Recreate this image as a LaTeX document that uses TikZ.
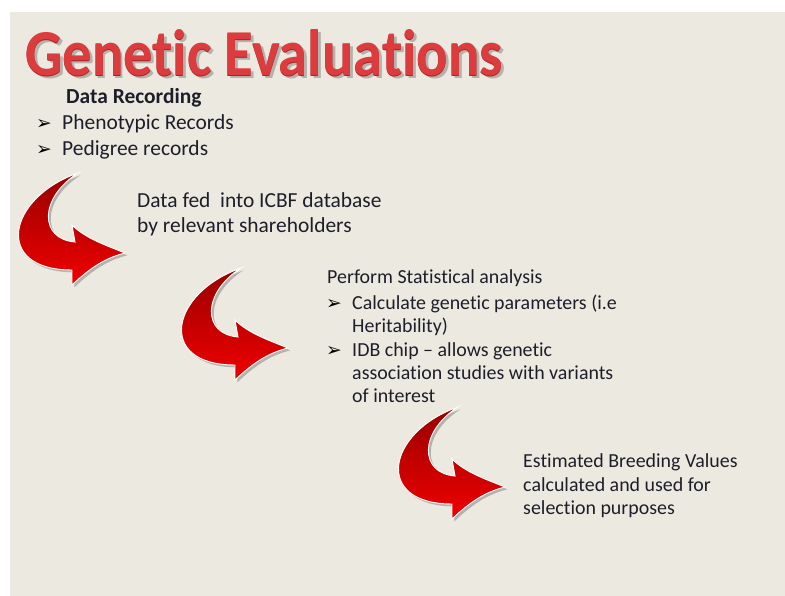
\documentclass[tikz,border=0pt]{standalone}
\usepackage{fontspec}
\setmainfont{Carlito}[Ligatures=NoCommon]
\newfontfamily\symfont{DejaVu Sans}
\usetikzlibrary{shadows}

\definecolor{slidebg}{HTML}{ECEAE0}
\definecolor{titlered}{HTML}{DC3C3E}
\definecolor{titleedge}{HTML}{A82226}
\definecolor{titleshade}{HTML}{B4B2AA}
\definecolor{arrowdark}{HTML}{980000}
\definecolor{arrowlight}{HTML}{F00000}
\definecolor{bodytext}{HTML}{1E1E2A}

\newcommand\titletext{\scalebox{1}[1.12]{Genetic Evaluations}}

\tikzset{
  body/.style={anchor=base west, inner sep=0pt, text=bodytext,
    font=\fontsize{18.3}{22}\selectfont},
  small/.style={body, font=\fontsize{17}{20}\selectfont},
  bullet/.style={anchor=base west, inner sep=0pt, text=black,
    font=\symfont\fontsize{16}{18}\selectfont},
  % curved red arrow, tip at the origin
  bendarrow/.pic={
    \path[drop shadow={shadow xshift=2pt, shadow yshift=-2pt, opacity=.35, fill=black!70},
          top color=arrowdark, bottom color=arrowlight, draw=white, line width=.8pt]
      (-47,-80) .. controls (-118,-55) and (-132,17) .. (-53,17)
      -- (-53,32) .. controls (-35,15) and (-20,5) .. (0,0)
      .. controls (-20,-8) and (-40,-15) .. (-53,-28)
      -- (-50,-11) .. controls (-86,-14) and (-86,-55) .. cycle;
  }
}

\begin{document}
\begin{tikzpicture}[x=0.03cm, y=-0.03cm]
  \useasboundingbox (0,0) rectangle (785,596);
  \fill[white] (0,0) rectangle (785,596);
  \fill[slidebg] (10,12) rectangle (785,596);

  % title: shadow, dark edge and red face in one node
  \node[anchor=base west, inner sep=0pt, font=\fontsize{50}{52}\bfseries] (title) at (25,76)
    {\rlap{\hspace{2.5pt}\raisebox{-2.5pt}{\color{titleshade}\titletext}}%
     \rlap{\raisebox{-.8pt}{\color{titleedge}\titletext}}%
     \color{titlered}\titletext};

  % data recording
  \node[body, font=\fontsize{18.3}{22}\bfseries] (datarec) at (66,104) {Data Recording};
  \node[bullet] (b1) at (36,130) {➢};
  \node[body] (pheno) at (62,130) {Phenotypic Records};
  \node[bullet] (b2) at (36,156) {➢};
  \node[body] (pedigree) at (62,156) {Pedigree records};

  \node[body] (fed1) at (137,208) {Data fed~ into ICBF database};
  \node[body] (fed2) at (137,233) {by relevant shareholders};

  % statistical analysis
  \node[small] (stat) at (327,283) {Perform Statistical analysis};
  \node[bullet] (b3) at (326,309) {➢};
  \node[small] (calc1) at (352,309) {Calculate genetic parameters (i.e};
  \node[small] (calc2) at (352,332) {Heritability)};
  \node[bullet] (b4) at (326,356) {➢};
  \node[small] (idb1) at (352,356) {IDB chip – allows genetic};
  \node[small] (idb2) at (352,379) {association studies with variants};
  \node[small] (idb3) at (352,402) {of interest};

  % breeding values
  \node[small] (ebv1) at (523,467) {Estimated Breeding Values};
  \node[small] (ebv2) at (523,491) {calculated and used for};
  \node[small] (ebv3) at (523,514) {selection purposes};

  % the three arrows
  \pic (arrowa) at (125,253) {bendarrow};
  \pic (arrowb) at (288,348) {bendarrow};
  \pic (arrowc) at (505,487) {bendarrow};
\end{tikzpicture}
\end{document}
